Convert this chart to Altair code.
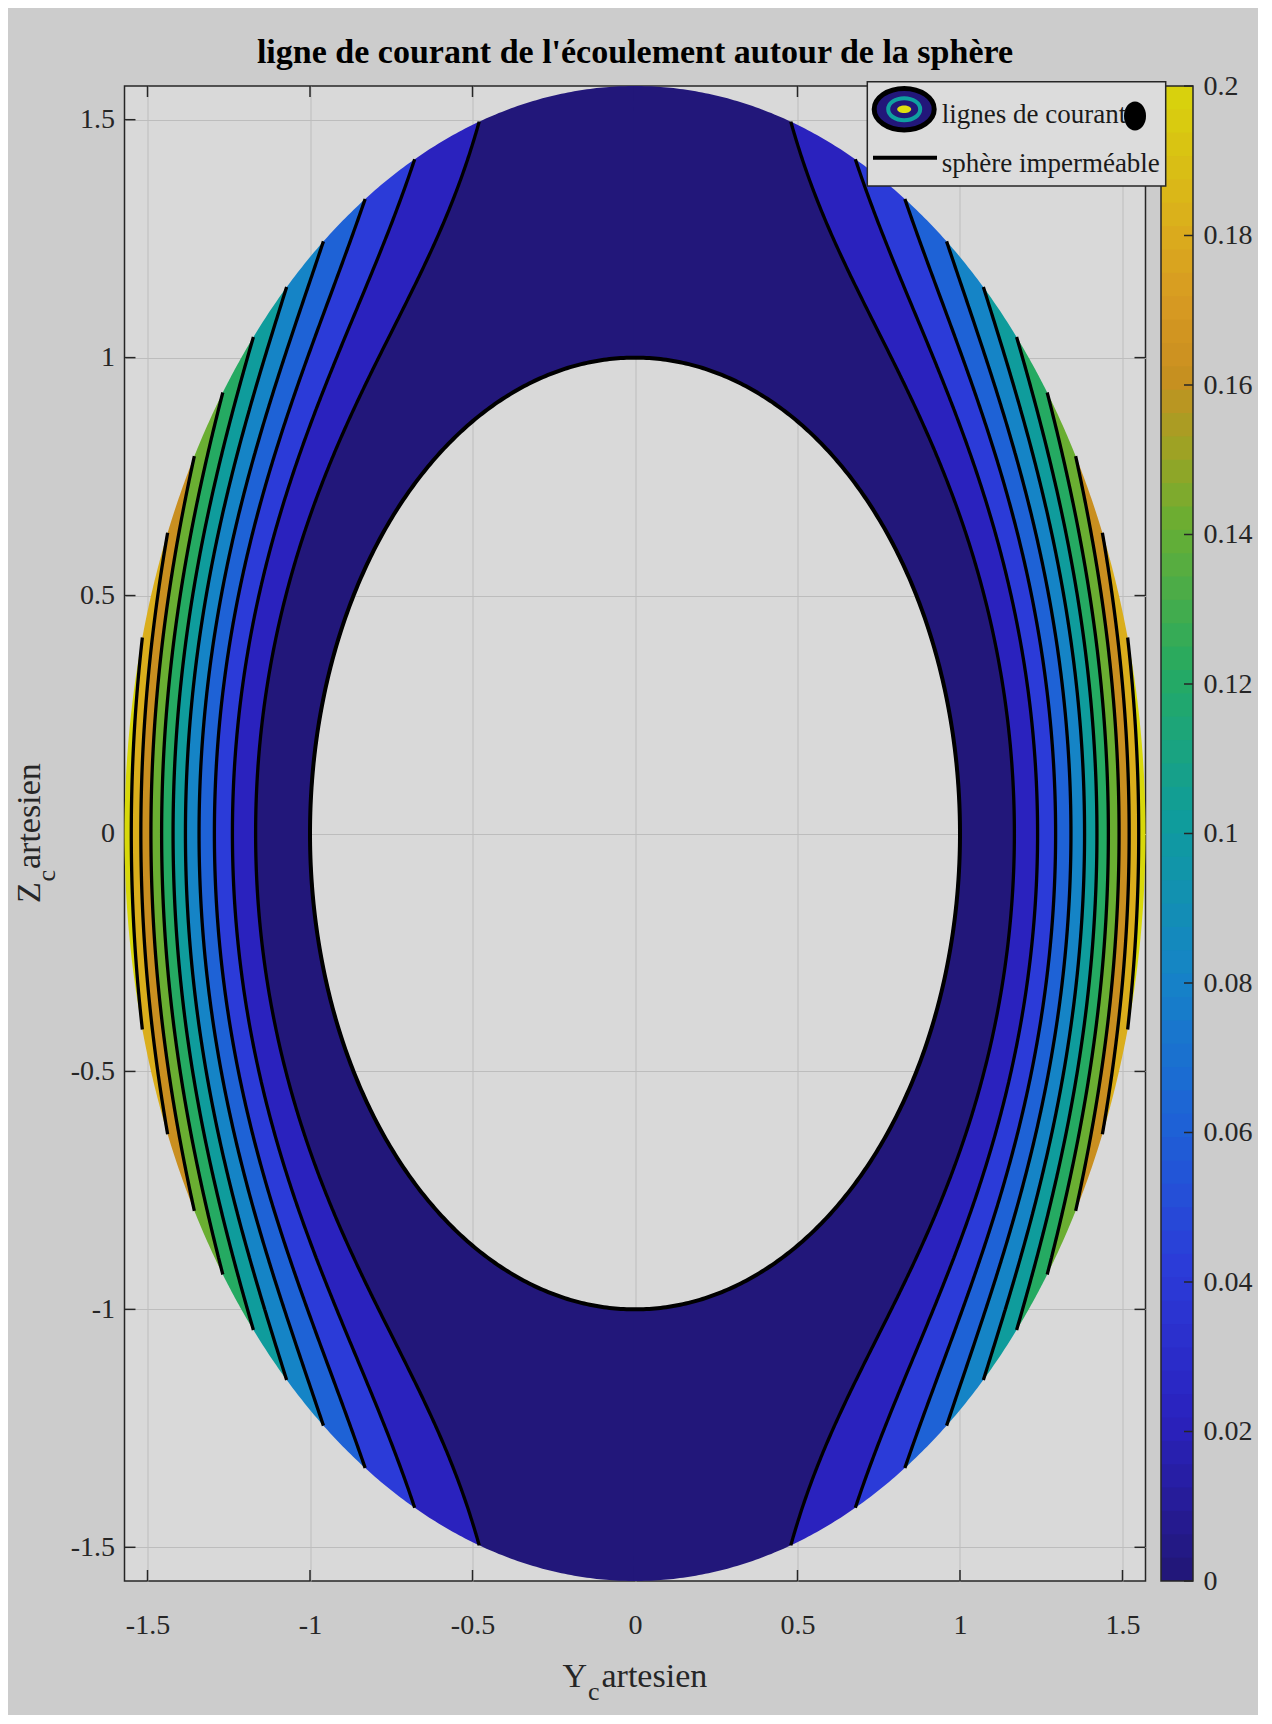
import numpy as np
import pandas as pd
import altair as alt

# ---------------- texts ----------------
TITLE = "ligne de courant de l'écoulement autour de la sphère"
X_TITLE = ["Y", "c", "artesien"]
Y_TITLE = ["Z", "c", "artesien"]
LEGEND_LABELS = ["lignes de courant", "sphère imperméable"]

# ---------------- model (Stokes flow around a sphere) ----------------
FREE_STREAM_SPEED = [1.0]
SPHERE_RADIUS = [1.0]
DOMAIN_RADIUS = [1.5708]

# ---------------- contour levels / ticks ----------------
LEVELS = [0, 0.02, 0.04, 0.06, 0.08, 0.10, 0.12, 0.14, 0.16, 0.18, 0.20]
X_TICKS = [-1.5, -1, -0.5, 0, 0.5, 1, 1.5]
Z_TICKS = [-1.5, -1, -0.5, 0, 0.5, 1, 1.5]
CBAR_TICKS = [0, 0.02, 0.04, 0.06, 0.08, 0.1, 0.12, 0.14, 0.16, 0.18, 0.2]

# colour map
CMAP_STOPS = [0, 0.02, 0.04, 0.06, 0.08, 0.10, 0.12, 0.14, 0.15, 0.16, 0.17, 0.18, 0.20]
CMAP_COLORS = ["#22177A", "#2A22BE", "#2B3BD8", "#1E62D6", "#1584C6", "#0F9C9C",
               "#25AA62", "#6AAE32", "#9EA224", "#C98F20", "#D89A22", "#DAAE1C", "#D8D80A"]

FONT = "Liberation Serif"
W, H = 1021, 1495

U = FREE_STREAM_SPEED[0]
A = SPHERE_RADIUS[0]
R = DOMAIN_RADIUS[0]


def radial(r):
    return U / 4.0 * (2 * r * r - 3 * A * r + A ** 3 / r)


def psi(y, z):
    r = np.maximum(np.hypot(y, z), A)
    return (y * y) / (r * r) * radial(r)


# sample heights (dense near the poles of both circles)
zs = [R * np.sin(np.linspace(-np.pi / 2, np.pi / 2, 501)),
      A * np.sin(np.linspace(-np.pi / 2, np.pi / 2, 201))]
fR = radial(R)
zcross = {}
for L in LEVELS[1:]:
    s2 = L / fR
    if s2 < 1:
        zc = R * np.sqrt(1 - s2)
        zcross[L] = zc
        zs.append(np.array([-zc, zc]))
z = np.unique(np.round(np.clip(np.concatenate(zs), -R, R), 7))
y_out = np.sqrt(np.clip(R * R - z * z, 0, None))
y_in = np.sqrt(np.clip(A * A - z * z, 0, None))


def solve(L):
    lo, hi = y_in.copy(), y_out.copy()
    for _ in range(60):
        mid = 0.5 * (lo + hi)
        below = psi(mid, z) < L
        lo = np.where(below, mid, lo)
        hi = np.where(below, hi, mid)
    y = 0.5 * (lo + hi)
    return np.where(psi(y_out, z) <= L, y_out, y)


bounds = [y_in] + [solve(L) for L in LEVELS[1:]] + [y_out]

EPS = 0.004
band_parts, navy_parts = [], []
for k, L in enumerate(LEVELS):
    inner, outer = bounds[k], bounds[k + 1]
    if k == 0:
        keep = np.ones_like(z, dtype=bool)
        inner = inner - EPS
    else:
        nz = (outer - inner) > 1e-10
        keep = nz | np.r_[False, nz[:-1]] | np.r_[nz[1:], False]
    for side, tag in ((-1, "L"), (1, "R")):
        d = pd.DataFrame({"z": z[keep], "xa": side * inner[keep], "xb": side * outer[keep],
                          "lev": L, "key": f"b{k}{tag}"})
        (navy_parts if k == 0 else band_parts).append(d)
navy_df = pd.concat(navy_parts).round(5)
band_df = pd.concat(band_parts).round(5)

line_parts = []
for k, L in enumerate(LEVELS):
    if k == 0 or L not in zcross:
        continue
    keep = np.abs(z) <= zcross[L] + 1e-7
    for side, tag in ((-1, "L"), (1, "R")):
        line_parts.append(pd.DataFrame({"x": side * bounds[k][keep], "z": z[keep], "lid": f"c{k}{tag}"}))
line_df = pd.concat(line_parts).round(5)

t = np.linspace(0, 2 * np.pi, 721)
circle_df = pd.DataFrame({"x": A * np.sin(t), "z": A * np.cos(t), "t": t}).round(5)

edges = np.linspace(CBAR_TICKS[0], CBAR_TICKS[-1], 65)
cbar_df = pd.DataFrame({"lo": edges[:-1], "hi": np.minimum(edges[1:] + 0.001, edges[-1]),
                        "c": edges[:-1]})

# ---------------- scales & axes ----------------
xs = alt.Scale(domain=[-R, R], nice=False, zero=False)
ys = alt.Scale(domain=[-R, R], nice=False, zero=False)
cys = alt.Scale(domain=[CBAR_TICKS[0], CBAR_TICKS[-1]], nice=False, zero=False)
CSCALE = alt.Scale(domain=CMAP_STOPS, range=CMAP_COLORS, interpolate="rgb")

common_ax = dict(title=None, labelExpr="'' + datum.value", domain=False, ticks=False, tickSize=0,
                 labelFont=FONT, labelFontSize=28, labelColor="#262626",
                 labelFlush=False, labelOverlap=False)
XAX = alt.Axis(values=X_TICKS, grid=True, gridColor="#BDBDBD", gridWidth=1,
               labelPadding=44, labelBaseline="middle", **common_ax)
YAX = alt.Axis(values=Z_TICKS, grid=True, gridColor="#BDBDBD", gridWidth=1,
               labelPadding=10, labelAlign="right", labelBaseline="middle", **common_ax)
CAX = alt.Axis(orient="right", values=CBAR_TICKS, grid=False, offset=47.5, labelPadding=10,
               labelAlign="left", labelBaseline="middle", **common_ax)

one = alt.Data(values=[{}])
AXC = "#262626"

# ---------------- plot layers ----------------
tx = pd.DataFrame({"v": X_TICKS})
tz = pd.DataFrame({"v": Z_TICKS})
tick_b = alt.Chart(tx).mark_rule(color=AXC, strokeWidth=1.5).encode(
    x=alt.X("v:Q", scale=xs, axis=XAX), y=alt.value(H), y2=alt.value(H - 11))
tick_t = alt.Chart(tx).mark_rule(color=AXC, strokeWidth=1.5).encode(
    x=alt.X("v:Q", scale=xs, axis=XAX), y=alt.value(0), y2=alt.value(11))
tick_l = alt.Chart(tz).mark_rule(color=AXC, strokeWidth=1.5).encode(
    y=alt.Y("v:Q", scale=ys, axis=YAX), x=alt.value(0), x2=alt.value(11))
tick_r = alt.Chart(tz).mark_rule(color=AXC, strokeWidth=1.5).encode(
    y=alt.Y("v:Q", scale=ys, axis=YAX), x=alt.value(W - 11), x2=alt.value(W))


def area_layer(df):
    return alt.Chart(df).mark_area(orient="horizontal").encode(
        y=alt.Y("z:Q", scale=ys, axis=YAX),
        x=alt.X("xa:Q", scale=xs, axis=XAX),
        x2="xb:Q",
        color=alt.Color("lev:Q", scale=CSCALE, legend=None),
        detail="key:N")


navy = area_layer(navy_df)
bands = area_layer(band_df)

lines = alt.Chart(line_df).mark_line(color="black", strokeWidth=3.3).encode(
    x=alt.X("x:Q", scale=xs, axis=XAX), y=alt.Y("z:Q", scale=ys, axis=YAX),
    detail="lid:N", order="z:Q")
circle = alt.Chart(circle_df).mark_line(color="black", strokeWidth=4).encode(
    x=alt.X("x:Q", scale=xs, axis=XAX), y=alt.Y("z:Q", scale=ys, axis=YAX), order="t:Q")

main = alt.layer(tick_b, tick_t, tick_l, tick_r, navy, bands, lines, circle)

# ---------------- colour bar ----------------
CB_X0, CB_X1 = W + 15.5, W + 47.5
cb_rects = alt.Chart(cbar_df).mark_rect().encode(
    y=alt.Y("lo:Q", scale=cys, axis=CAX), y2="hi:Q",
    x=alt.value(CB_X0), x2=alt.value(CB_X1),
    color=alt.Color("c:Q", scale=CSCALE, legend=None))
cb_ticks = alt.Chart(pd.DataFrame({"v": CBAR_TICKS})).mark_rule(color=AXC, strokeWidth=1.5).encode(
    y=alt.Y("v:Q", scale=cys, axis=CAX), x=alt.value(CB_X1 - 9), x2=alt.value(CB_X1))
cb_box = alt.Chart(one).mark_rect(fillOpacity=0, stroke=AXC, strokeWidth=1.5).encode(
    x=alt.value(CB_X0), x2=alt.value(CB_X1), y=alt.value(0), y2=alt.value(H))
cbar = alt.layer(cb_rects, cb_ticks, cb_box)

# ---------------- legend box ----------------
ELL = "M-1,0A1,0.69,0,1,1,1,0A1,0.69,0,1,1,-1,0Z"
ELL_FLAT = "M-1,0A1,0.54,0,1,1,1,0A1,0.54,0,1,1,-1,0Z"
DOT = "M0,-1A0.76,1,0,1,1,0,1A0.76,1,0,1,1,0,-1Z"

leg_box = alt.Chart(one).mark_rect(fill="#DCDCDC", stroke=AXC, strokeWidth=1.5).encode(
    x=alt.value(742.8), x2=alt.value(1041.2), y=alt.value(-4.3), y2=alt.value(100))
icon_out = alt.Chart(one).mark_point(shape=ELL, size=60 ** 2, filled=True, fill=CMAP_COLORS[0],
                                     stroke="black", strokeWidth=5, opacity=1).encode(
    x=alt.value(779.7), y=alt.value(23.2))
icon_ring = alt.Chart(one).mark_point(shape=ELL, size=32 ** 2, filled=False, stroke="#0FA0A0",
                                      strokeWidth=4, opacity=1).encode(
    x=alt.value(779.7), y=alt.value(23.2))
icon_mid = alt.Chart(one).mark_point(shape=ELL_FLAT, size=14 ** 2, filled=True, fill="#E0E010",
                                     strokeWidth=0, opacity=1).encode(
    x=alt.value(779.7), y=alt.value(23.2))
leg_dot = alt.Chart(one).mark_point(shape=DOT, size=29 ** 2, filled=True, fill="black",
                                    strokeWidth=0, opacity=1).encode(
    x=alt.value(1010.5), y=alt.value(30))
leg_line = alt.Chart(one).mark_rule(color="black", strokeWidth=4).encode(
    x=alt.value(748.5), x2=alt.value(812.5), y=alt.value(71.7))


def txt(text, x, y, size, bold=False, angle=0, align="left", color="#1A1A1A"):
    return alt.Chart(one).mark_text(text=text, font=FONT, fontSize=size,
                                    fontWeight="bold" if bold else "normal", angle=angle,
                                    align=align, baseline="alphabetic", color=color).encode(
        x=alt.value(x), y=alt.value(y))


leg_t1 = txt(LEGEND_LABELS[0], 817.2, 37.3, 27)
leg_t2 = txt(LEGEND_LABELS[1], 817.2, 85.7, 27)
legend = alt.layer(leg_box, icon_out, icon_ring, icon_mid, leg_dot, leg_line, leg_t1, leg_t2)

# ---------------- titles ----------------
title = txt(TITLE, W / 2, -23, 34, bold=True, align="center", color="black")
xt = alt.layer(txt(X_TITLE[0], 438, H + 106, 34, color=AXC),
               txt(X_TITLE[1], 463.5, H + 119, 26, color=AXC),
               txt(X_TITLE[2], 477, H + 106, 34, color=AXC))
yt = alt.layer(txt(Y_TITLE[0], -84.5, 817, 34, angle=270, color=AXC),
               txt(Y_TITLE[1], -70, 795.5, 26, angle=270, color=AXC),
               txt(Y_TITLE[2], -84.5, 783, 34, angle=270, color=AXC))

chart = alt.layer(main, cbar, legend, title, xt, yt).resolve_scale(y="independent").properties(
    width=W, height=H,
    autosize=alt.AutoSizeParams(type="none"),
    padding={"left": 116.5, "top": 78, "right": 112, "bottom": 134},
).configure(background="#CCCCCC").configure_view(fill="#D9D9D9", stroke=AXC, strokeWidth=1.5)

chart.save("out.html", embed_options={"renderer": "svg", "actions": False})
